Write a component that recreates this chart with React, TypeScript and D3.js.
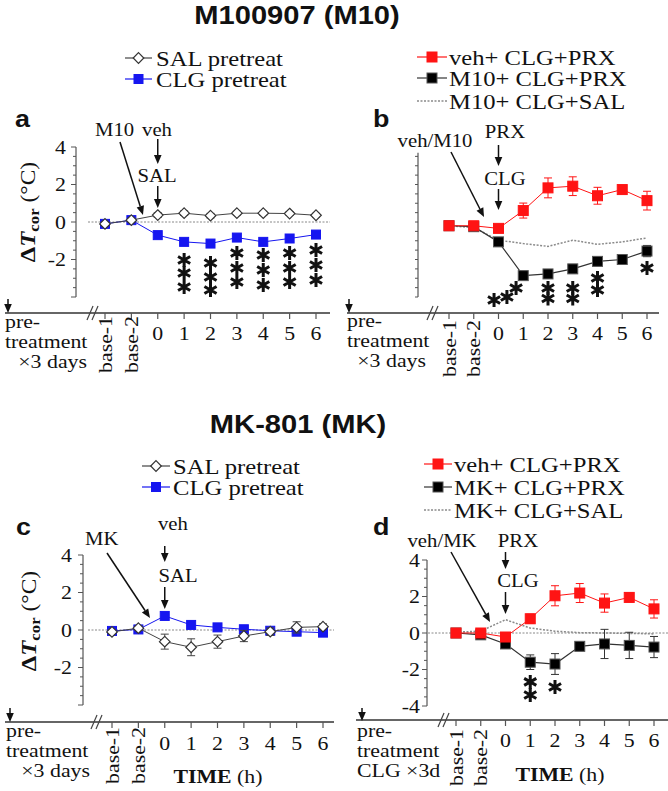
import * as d3 from "d3";

// text in the figure is drawn a bit wider than the fonts we have
const SX = 1.12;
const SERIF = "'Liberation Serif', 'Times New Roman', serif";
const SANS = "'Liberation Sans', Arial, sans-serif";

const X_VALUES = [-2, -1, 0, 1, 2, 3, 4, 5, 6];
const X_LABELS = ["base-1", "base-2", "0", "1", "2", "3", "4", "5", "6"];

// a: M10 / veh after SAL or CLG pretreatment
const A_SAL = [-0.1, 0.1, 0.37, 0.47, 0.34, 0.47, 0.47, 0.45, 0.36];
const A_SAL_ERR = [0.1, 0.1, 0.12, 0.12, 0.12, 0.1, 0.1, 0.1, 0.1];
const A_CLG = [-0.1, 0.1, -0.7, -1.06, -1.15, -0.83, -1.06, -0.88, -0.67];
const A_CLG_ERR = [0.1, 0.1, 0.15, 0.15, 0.15, 0.15, 0.15, 0.15, 0.15];
const A_STARS: [number, number][] = [
  [1, -2.03], [1, -2.72], [1, -3.47],
  [2, -2.19], [2, -2.93], [2, -3.63],
  [3, -1.65], [3, -2.45], [3, -3.2],
  [4, -1.76], [4, -2.56], [4, -3.36],
  [5, -1.65], [5, -2.45], [5, -3.2],
  [6, -1.49], [6, -2.29], [6, -3.09],
];

// b
const B_VEH = [-0.2, -0.2, -0.34, 0.61, 1.82, 1.91, 1.4, 1.73, 1.14];
const B_VEH_ERR = [0.15, 0.15, 0.15, 0.4, 0.53, 0.5, 0.45, 0.2, 0.5];
const B_M10 = [-0.2, -0.25, -1.06, -2.86, -2.77, -2.5, -2.1, -2.0, -1.55];
const B_M10_ERR = [0.15, 0.15, 0.15, 0.2, 0.2, 0.2, 0.2, 0.2, 0.3];
const B_SAL = [-0.2, -0.3, -0.97, -1.15, -1.3, -0.97, -1.19, -1.06, -0.85];
const B_STARS: [number, number][] = [
  [-0.18, -4.16], [0.34, -4.0], [0.71, -3.52],
  [2, -3.52], [2, -4.08], [3, -3.52], [3, -4.08],
  [4, -2.99], [4, -3.63], [6, -2.45],
];

// c: MK-801
const C_SAL = [-0.1, 0.1, -0.62, -0.92, -0.62, -0.32, -0.09, 0.14, 0.18];
const C_SAL_ERR = [0.1, 0.1, 0.4, 0.45, 0.35, 0.3, 0.2, 0.3, 0.15];
const C_CLG = [-0.05, 0.03, 0.75, 0.27, 0.14, 0.04, -0.04, -0.09, -0.14];
const C_CLG_ERR = [0.1, 0.1, 0.15, 0.1, 0.1, 0.1, 0.1, 0.1, 0.1];

// d
const D_VEH = [0, 0, -0.22, 0.78, 2.04, 2.19, 1.64, 1.95, 1.32];
const D_VEH_ERR = [0.15, 0.15, 0.15, 0.25, 0.55, 0.52, 0.5, 0.25, 0.5];
const D_MK = [0, -0.1, -0.6, -1.6, -1.7, -0.73, -0.6, -0.68, -0.77];
const D_MK_ERR = [0.15, 0.15, 0.2, 0.4, 0.57, 0.15, 0.8, 0.72, 0.58];
const D_SAL = [0.05, 0.1, 0.73, 0.27, 0.1, 0.02, 0, -0.02, -0.05];
const D_STARS: [number, number][] = [[1, -2.68], [1, -3.4], [2, -2.96]];

const BLUE = "#1616f0";
const RED = "#ff1414";

type Series = {
  values: number[];
  errs?: number[];
  color: string;
  line: string;
  marker: "square" | "diamond" | "none";
  dash?: string;
  lw?: number;
};

type PanelCfg = {
  xr: [number, number];
  yr: [number, number];
  axisX: number;
  axisTop: number;
  yLabels: number[];
  labelGap: number;
  zero: [number, number] | null;
  baseY: number;
  baseX0: number;
  baseX1: number;
  brk: number;
  tickLabelY: number;
  rotTop: number;
  series: Series[];
  stars: [number, number][];
  msize: number;
};

const T = ({ x, y, size = 19.5, anchor = "start", weight = "normal", family = SERIF, rot = 0, children }: any) => (
  <text
    transform={`translate(${x},${y}) rotate(${rot}) scale(${SX},1)`}
    fontSize={size}
    textAnchor={anchor}
    fontWeight={weight}
    fontFamily={family}
    fill="#111"
  >
    {children}
  </text>
);

const Arrow = ({ x1, y1, x2, y2 }: { x1: number; y1: number; x2: number; y2: number }) => {
  const a = Math.atan2(y2 - y1, x2 - x1);
  const L = 9, W = 3.8;
  const bx = x2 - L * Math.cos(a), by = y2 - L * Math.sin(a);
  const px = -Math.sin(a) * W, py = Math.cos(a) * W;
  return (
    <g>
      <line x1={x1} y1={y1} x2={bx} y2={by} stroke="#111" strokeWidth={1.5} />
      <path d={`M${x2},${y2}L${bx + px},${by + py}L${bx - px},${by - py}Z`} fill="#111" />
    </g>
  );
};

const Star = ({ cx, cy }: { cx: number; cy: number }) => {
  const r = 7;
  const d = [90, 30, 150]
    .map((deg) => {
      const a = (deg * Math.PI) / 180;
      return `M${cx - r * Math.cos(a)},${cy - r * Math.sin(a)}L${cx + r * Math.cos(a)},${cy + r * Math.sin(a)}`;
    })
    .join("");
  return <path d={d} stroke="#111" strokeWidth={3} />;
};

const Marker = ({ s, cx, cy, size }: { s: Series; cx: number; cy: number; size: number }) => {
  if (s.marker === "square")
    return <rect x={cx - size / 2} y={cy - size / 2} width={size} height={size} fill={s.color} stroke={s.color === "#000" ? "#555" : s.color} strokeWidth={1} />;
  if (s.marker === "diamond") {
    const h = size / 2 + 0.8;
    return <path d={`M${cx},${cy - h}L${cx + h},${cy}L${cx},${cy + h}L${cx - h},${cy}Z`} fill="#fff" stroke="#333" strokeWidth={1.2} />;
  }
  return null;
};

const scalesOf = (cfg: PanelCfg) => ({
  x: d3.scaleLinear().domain([-2, 6]).range(cfg.xr),
  y: d3.scaleLinear().domain([-4, 4]).range(cfg.yr),
});

function Panel({ cfg }: { cfg: PanelCfg }) {
  const { x, y } = scalesOf(cfg);
  const ticks = d3.range(-4, cfg.axisTop + 0.001, 0.5);
  const line = d3.line<number>().x((_, i) => x(X_VALUES[i])).y((d) => y(d));
  return (
    <g>
      {cfg.zero && (
        <line x1={cfg.zero[0]} x2={cfg.zero[1]} y1={y(0)} y2={y(0)} stroke="#888" strokeDasharray="2,1.5" strokeWidth={1} />
      )}
      {/* y axis */}
      <line x1={cfg.axisX} x2={cfg.axisX} y1={y(-4)} y2={y(cfg.axisTop)} stroke="#555" strokeWidth={1.2} />
      {ticks.map((t) => {
        const major = cfg.yLabels.length > 0 && t % 2 === 0;
        return <line key={t} x1={cfg.axisX - (major ? 5 : 3)} x2={cfg.axisX} y1={y(t)} y2={y(t)} stroke="#555" strokeWidth={1} />;
      })}
      {cfg.yLabels.map((t) => (
        <T key={t} x={cfg.axisX - cfg.labelGap} y={y(t) + 6.5} anchor="end">
          {t}
        </T>
      ))}
      {/* broken time axis */}
      <line x1={cfg.baseX0} x2={cfg.baseX1} y1={cfg.baseY} y2={cfg.baseY} stroke="#666" strokeWidth={1.8} />
      {[0, 5].map((o) => (
        <line key={o} x1={cfg.brk + o - 3} x2={cfg.brk + o + 3} y1={cfg.baseY + 7} y2={cfg.baseY - 7} stroke="#444" strokeWidth={1.2} />
      ))}
      {X_VALUES.map((v, i) => (
        <g key={v}>
          <line x1={x(v)} x2={x(v)} y1={cfg.baseY} y2={cfg.baseY + 6} stroke="#555" strokeWidth={1.2} />
          {i < 2 ? (
            <T x={x(v) + 6.5} y={cfg.rotTop} rot={-90} anchor="end">
              {X_LABELS[i]}
            </T>
          ) : (
            <T x={x(v)} y={cfg.tickLabelY} anchor="middle">
              {X_LABELS[i]}
            </T>
          )}
        </g>
      ))}
      {/* series */}
      {cfg.series.map((s, si) => (
        <g key={si}>
          <path d={line(s.values) ?? ""} fill="none" stroke={s.line} strokeWidth={s.lw ?? 1} strokeDasharray={s.dash} />
          {s.errs &&
            s.values.map((v, i) => {
              const e = s.errs![i];
              const cx = x(X_VALUES[i]);
              return (
                <g key={i} stroke={s.line} strokeWidth={1}>
                  <line x1={cx} x2={cx} y1={y(v - e)} y2={y(v + e)} />
                  <line x1={cx - 4} x2={cx + 4} y1={y(v - e)} y2={y(v - e)} />
                  <line x1={cx - 4} x2={cx + 4} y1={y(v + e)} y2={y(v + e)} />
                </g>
              );
            })}
          {s.values.map((v, i) => (
            <Marker key={i} s={s} cx={x(X_VALUES[i])} cy={y(v)} size={cfg.msize} />
          ))}
        </g>
      ))}
      {cfg.stars.map(([t, v], i) => (
        <Star key={i} cx={x(t)} cy={y(v)} />
      ))}
    </g>
  );
}

const PA: PanelCfg = {
  xr: [105, 316], yr: [297, 147], axisX: 76, axisTop: 4, yLabels: [4, 2, 0, -2], labelGap: 10,
  zero: [88, 330], baseY: 313, baseX0: 5, baseX1: 330, brk: 90, tickLabelY: 340, rotTop: 316,
  msize: 9, stars: A_STARS,
  series: [
    { values: A_CLG, errs: A_CLG_ERR, color: BLUE, line: BLUE, marker: "square" },
    { values: A_SAL, errs: A_SAL_ERR, color: "#fff", line: "#444", marker: "diamond" },
  ],
};
const PB: PanelCfg = {
  xr: [449, 647], yr: [297, 147], axisX: 418, axisTop: 3.7, yLabels: [], labelGap: 8,
  zero: null, baseY: 313, baseX0: 347, baseX1: 659, brk: 430, tickLabelY: 340, rotTop: 320,
  msize: 10, stars: B_STARS,
  series: [
    { values: B_SAL, color: "#888", line: "#8a8a8a", marker: "none", dash: "2,1.5", lw: 1.5 },
    { values: B_M10, errs: B_M10_ERR, color: "#000", line: "#333", marker: "square", lw: 1.2 },
    { values: B_VEH, errs: B_VEH_ERR, color: RED, line: RED, marker: "square" },
  ],
};
const PC: PanelCfg = {
  xr: [112, 323], yr: [705, 555], axisX: 83, axisTop: 4, yLabels: [4, 2, 0, -2], labelGap: 11,
  zero: [88, 334], baseY: 722, baseX0: 5, baseX1: 334, brk: 94, tickLabelY: 750, rotTop: 727,
  msize: 9, stars: [],
  series: [
    { values: C_CLG, errs: C_CLG_ERR, color: BLUE, line: BLUE, marker: "square" },
    { values: C_SAL, errs: C_SAL_ERR, color: "#fff", line: "#444", marker: "diamond" },
  ],
};
const PD: PanelCfg = {
  xr: [456, 654], yr: [706, 560], axisX: 427, axisTop: 4, yLabels: [4, 2, 0, -2, -4], labelGap: 7,
  zero: [428, 668], baseY: 720, baseX0: 356, baseX1: 668, brk: 441, tickLabelY: 747, rotTop: 729,
  msize: 10, stars: D_STARS,
  series: [
    { values: D_SAL, color: "#888", line: "#8a8a8a", marker: "none", dash: "2,1.5", lw: 1.5 },
    { values: D_MK, errs: D_MK_ERR, color: "#000", line: "#333", marker: "square", lw: 1.2 },
    { values: D_VEH, errs: D_VEH_ERR, color: RED, line: RED, marker: "square" },
  ],
};

const LegendRow = ({ x0, x1, cy, tx, s, label, size = 9 }: any) => (
  <g>
    <line x1={x0} x2={x1} y1={cy} y2={cy} stroke={s.line} strokeWidth={s.lw ?? 1.2} strokeDasharray={s.dash} />
    <Marker s={s} cx={(x0 + x1) / 2} cy={cy} size={size} />
    <T x={tx} y={cy + 7.5} size={22}>
      {label}
    </T>
  </g>
);

const YLabel = ({ x, y }: { x: number; y: number }) => (
  <T x={x} y={y} rot={-90} anchor="middle" size={22}>
    <tspan fontWeight="bold">Δ</tspan>
    <tspan fontWeight="bold" fontStyle="italic">T</tspan>
    <tspan fontWeight="bold" fontSize={15} dy={4}>cor</tspan>
    <tspan fontSize={21} dy={-4}> (°C)</tspan>
  </T>
);

const PreText = ({ x, y, last, right }: { x: number; y: number; last: string; right?: number }) => (
  <g>
    <T x={x} y={y}>pre-</T>
    <T x={x} y={y + 20}>treatment</T>
    {right ? (
      <T x={right} y={y + 40} anchor="end">{last}</T>
    ) : (
      <T x={x} y={y + 40}>{last}</T>
    )}
  </g>
);

export default function App() {
  const a = scalesOf(PA), b = scalesOf(PB), c = scalesOf(PC), d = scalesOf(PD);
  const sal = PA.series[1], clg = PA.series[0];
  return (
    <svg width={668} height={791} style={{ position: "absolute", left: 0, top: 0, background: "#fff" }}>
      {/* titles */}
      <T x={297} y={24} size={26} weight="bold" family={SANS} anchor="middle">M100907 (M10)</T>
      <T x={298} y={433} size={26} weight="bold" family={SANS} anchor="middle">MK-801 (MK)</T>

      {/* legends */}
      <LegendRow x0={125} x1={152} cy={58} tx={156} s={sal} label="SAL pretreat" />
      <LegendRow x0={125} x1={152} cy={79} tx={156} s={clg} label="CLG pretreat" />
      <LegendRow x0={417} x1={447} cy={57} tx={449} s={PB.series[2]} label="veh+ CLG+PRX" size={10} />
      <LegendRow x0={417} x1={447} cy={78} tx={449} s={PB.series[1]} label="M10+ CLG+PRX" size={10} />
      <LegendRow x0={417} x1={447} cy={101} tx={449} s={PB.series[0]} label="M10+ CLG+SAL" />
      <LegendRow x0={142} x1={170} cy={466} tx={173} s={sal} label="SAL pretreat" />
      <LegendRow x0={142} x1={170} cy={487} tx={173} s={clg} label="CLG pretreat" />
      <LegendRow x0={424} x1={452} cy={464} tx={454} s={PD.series[2]} label="veh+ CLG+PRX" size={10} />
      <LegendRow x0={424} x1={452} cy={487} tx={454} s={PD.series[1]} label="MK+ CLG+PRX" size={10} />
      <LegendRow x0={424} x1={452} cy={510} tx={454} s={PD.series[0]} label="MK+ CLG+SAL" />

      {/* panel letters */}
      <T x={15} y={127} size={24} weight="bold" family={SANS}>a</T>
      <T x={373} y={127} size={24} weight="bold" family={SANS}>b</T>
      <T x={16} y={535} size={24} weight="bold" family={SANS}>c</T>
      <T x={373} y={535} size={24} weight="bold" family={SANS}>d</T>

      <YLabel x={35} y={212} />
      <YLabel x={36} y={621} />

      <Panel cfg={PA} />
      <Panel cfg={PB} />
      <Panel cfg={PC} />
      <Panel cfg={PD} />

      {/* annotations a */}
      <T x={95} y={136} size={18.5}>M10</T>
      <T x={157} y={136} size={18.5} anchor="middle">veh</T>
      <Arrow x1={a.x(0)} y1={139} x2={a.x(0)} y2={164} />
      <T x={157} y={182} size={18.5} anchor="middle">SAL</T>
      <Arrow x1={a.x(0)} y1={186} x2={a.x(0)} y2={208} />
      <Arrow x1={120} y1={142} x2={143} y2={215} />

      {/* annotations b */}
      <T x={435} y={147} size={18.5} anchor="middle">veh/M10</T>
      <T x={505} y={138} size={18.5} anchor="middle">PRX</T>
      <Arrow x1={b.x(0)} y1={145} x2={b.x(0)} y2={166} />
      <T x={505} y={185} size={18.5} anchor="middle">CLG</T>
      <Arrow x1={b.x(0)} y1={189} x2={b.x(0)} y2={210} />
      <Arrow x1={451} y1={152} x2={484} y2={217} />

      {/* annotations c */}
      <T x={85} y={545} size={18.5}>MK</T>
      <T x={158} y={530} size={18.5}>veh</T>
      <Arrow x1={c.x(0)} y1={546} x2={c.x(0)} y2={562} />
      <T x={178} y={582} size={18.5} anchor="middle">SAL</T>
      <Arrow x1={c.x(0)} y1={587} x2={c.x(0)} y2={609} />
      <Arrow x1={107} y1={553} x2={150} y2={618} />

      {/* annotations d */}
      <T x={442} y={547} size={18.5} anchor="middle">veh/MK</T>
      <T x={518} y={547} size={18.5} anchor="middle">PRX</T>
      <Arrow x1={d.x(0)} y1={552} x2={d.x(0)} y2={569} />
      <T x={518} y={587} size={18.5} anchor="middle">CLG</T>
      <Arrow x1={d.x(0)} y1={592} x2={d.x(0)} y2={614} />
      <Arrow x1={451} y1={552} x2={490} y2={622} />

      {/* pretreatment notes */}
      <Arrow x1={8} y1={299} x2={8} y2={313} />
      <PreText x={5} y={328} last="×3 days" right={87} />
      <Arrow x1={349} y1={299} x2={349} y2={313} />
      <PreText x={347} y={327} last="×3 days" right={426} />
      <Arrow x1={10} y1={708} x2={10} y2={722} />
      <PreText x={6} y={737} last="×3 days" right={90} />
      <Arrow x1={362} y1={708} x2={362} y2={721} />
      <PreText x={357} y={737} last="CLG ×3d" />

      {/* time axis titles */}
      <T x={218} y={783} anchor="middle">
        <tspan fontWeight="bold">TIME</tspan> (h)
      </T>
      <T x={560} y={781} anchor="middle">
        <tspan fontWeight="bold">TIME</tspan> (h)
      </T>
    </svg>
  );
}
